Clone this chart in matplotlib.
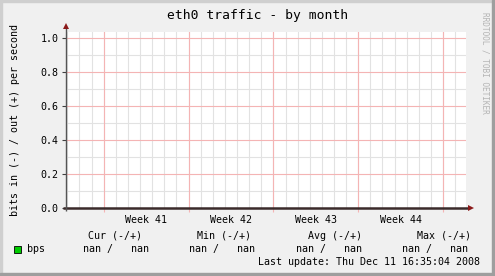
import matplotlib
matplotlib.use("Agg")
import matplotlib.pyplot as plt
from matplotlib.patches import Rectangle
import numpy as np

# chart data
title = "eth0 traffic - by month"
ylabel = "bits in (-) / out (+) per second"
week_labels = ["Week 41", "Week 42", "Week 43", "Week 44"]
week_starts = [3.15, 10.15, 17.15, 24.15, 31.15]   # days from left edge
days_shown = 33.0
y_ticks = [0.0, 0.2, 0.4, 0.6, 0.8, 1.0]
series_days = [0.0, 33.0]
series_bps = [np.nan, np.nan]   # no data, every value is nan
legend_heads = ["Cur (-/+)", "Min (-/+)", "Avg (-/+)", "Max (-/+)"]
legend_vals = ["nan /   nan", "nan /   nan", "nan /   nan", "nan /   nan"]
last_update = "Last update: Thu Dec 11 16:35:04 2008"

W, H = 495, 276
mono = "DejaVu Sans Mono"

fig = plt.figure(figsize=(W / 100, H / 100), dpi=100)
fig.patch.set_facecolor("#F0F0F0")

def px(x, y):
    return x / W, 1 - y / H

#frame shading
fig.add_artist(Rectangle((0, 0), 2 / W, 1, transform=fig.transFigure, color="#CFCFCF", zorder=0))
fig.add_artist(Rectangle((0, 1 - 2 / H), 1, 2 / H, transform=fig.transFigure, color="#CFCFCF", zorder=0))
fig.add_artist(Rectangle((1 - 3 / W, 0), 3 / W, 1, transform=fig.transFigure, color="#9E9E9E", zorder=0))
fig.add_artist(Rectangle((0, 0), 1, 3 / H, transform=fig.transFigure, color="#9E9E9E", zorder=0))

left, right, top, bottom = 65.5, 465.5, 32.3, 208.3
ax = fig.add_axes([left / W, 1 - bottom / H, (right - left) / W, (bottom - top) / H])
ax.set_facecolor("white")
ylim_top = 1.0 + (38.3 - top) / (bottom - 38.3)
ax.set_xlim(0, days_shown)
ax.set_ylim(0, ylim_top)

# grid
minor_x = np.arange(week_starts[0] % 1.0, days_shown, 1.0)
for d in minor_x:
    ax.axvline(d, color="#E2E2E2", lw=0.8, zorder=1)
for v in np.arange(0.1, 1.0, 0.2):
    ax.axhline(v, color="#E2E2E2", lw=0.8, zorder=1)
for d in week_starts:
    ax.axvline(d, color="#F4B4B4", lw=0.8, zorder=2)
for v in y_ticks[1:]:
    ax.axhline(v, color="#F4B4B4", lw=0.8, zorder=2)

ax.plot(series_days, series_bps, color="#00CC00", lw=1)

for s in ax.spines.values():
    s.set_visible(False)

ax.set_yticks(y_ticks)
ax.set_yticklabels(["%.1f" % v for v in y_ticks], fontfamily=mono, fontsize=7.2)
ax.tick_params(axis="y", length=3, width=0.8, color="#404040", pad=2)
ax.set_xticks(week_starts)
ax.set_xticklabels([])
ax.tick_params(axis="x", length=3, width=0.8, color="#F4B4B4")
for i, lab in enumerate(week_labels):
    mid = (week_starts[i] + week_starts[i + 1]) / 2
    ax.text(mid, -0.04, lab, ha="center", va="top", fontfamily=mono, fontsize=7.2)

# axes with arrows
x_end = days_shown + 0.25
y_end = ylim_top + 0.025
ax.plot([-0.2, x_end], [0, 0], color="#3A2A2A", lw=1.8, clip_on=False, zorder=5,
        solid_capstyle="butt")
ax.plot([0, 0], [-0.015, y_end], color="#555555", lw=1.0, clip_on=False, zorder=5,
        solid_capstyle="butt")
ax.plot([x_end + 0.2], [0], marker=">", color="#8B1A1A", ms=4.5, mew=0, clip_on=False, zorder=6)
ax.plot([0], [y_end + 0.015], marker="^", color="#8B1A1A", ms=4.5, mew=0, clip_on=False, zorder=6)

# texts
fig.text(*px(258, 16), title, ha="center", va="center", fontfamily=mono, fontsize=9.4)
fig.text(*px(15, 120), ylabel, ha="center", va="center", rotation=90, fontfamily=mono, fontsize=7.2)
fig.text(*px(485, 63), "RRDTOOL / TOBI OETIKER", ha="center", va="center", rotation=270,
         fontfamily=mono, fontsize=5.6, color="#B4B4B4")

fig.add_artist(Rectangle(px(14, 253), 7 / W, 7 / H, transform=fig.transFigure,
                         facecolor="#00CC00", edgecolor="black", lw=0.6))
fig.text(*px(27, 249), "bps", ha="left", va="center", fontfamily=mono, fontsize=7.2)
head_right = [142, 251, 362, 471]
val_right = [149, 255, 362, 468]
for h, v, hr, vr in zip(legend_heads, legend_vals, head_right, val_right):
    fig.text(*px(hr, 236), h, ha="right", va="center", fontfamily=mono, fontsize=7.2)
    fig.text(*px(vr, 249), v, ha="right", va="center", fontfamily=mono, fontsize=7.2)
fig.text(*px(480, 262), last_update, ha="right", va="center", fontfamily=mono, fontsize=7.2)

fig.savefig("out.png", dpi=100, facecolor=fig.get_facecolor())
